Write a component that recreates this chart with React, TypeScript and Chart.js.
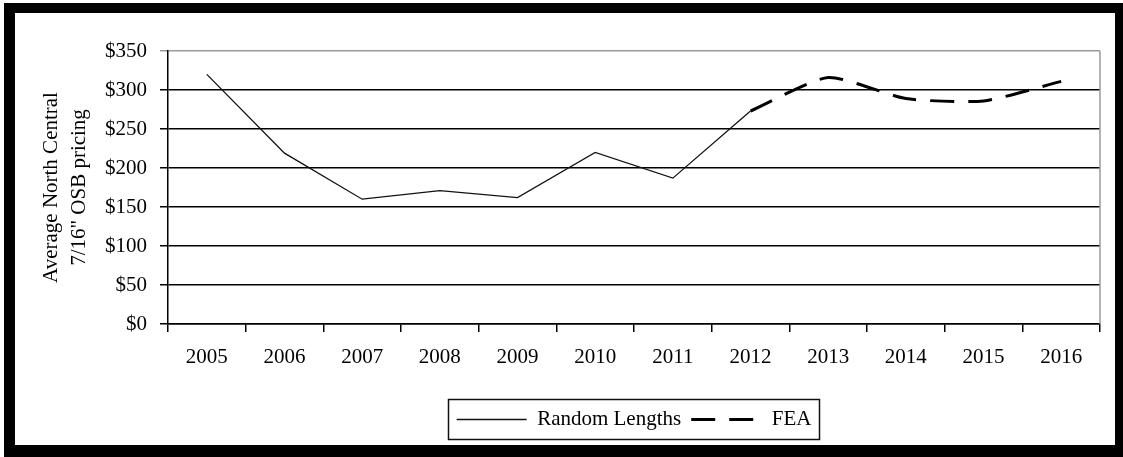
import React, { useEffect, useRef } from 'react';
import { Chart, registerables } from 'chart.js';

Chart.register(...registerables);

const years = ['2005', '2006', '2007', '2008', '2009', '2010', '2011', '2012', '2013', '2014', '2015', '2016'];
const randomLengths: (number | null)[] = [320, 219, 160, 171, 162, 220, 187, 273, null, null, null, null];
const fea: (number | null)[] = [null, null, null, null, null, null, null, 273, 316, 289, 286, 311];
const seriesNames = ['Random Lengths', 'FEA'];
const yMin = 0;
const yMax = 350;
const yStep = 50;
const yTitle = ['Average North Central', '7/16" OSB pricing'];

const FONT = "'Liberation Serif', 'Times New Roman', serif";

const decorPlugin = {
  id: 'decor',
  afterDraw(chart: any) {
    const { ctx, chartArea } = chart;
    ctx.save();
    ctx.strokeStyle = '#9a9a9a';
    ctx.lineWidth = 1.5;
    ctx.beginPath();
    ctx.moveTo(chartArea.right, chartArea.top);
    ctx.lineTo(chartArea.right, chartArea.bottom);
    ctx.stroke();
    const lg = chart.legend;
    if (lg && lg.legendHitBoxes && lg.legendHitBoxes.length) {
      const boxes = lg.legendHitBoxes;
      const l = Math.min(...boxes.map((b: any) => b.left)) - 9;
      const r = Math.max(...boxes.map((b: any) => b.left + b.width)) + 7;
      ctx.strokeStyle = '#111';
      ctx.lineWidth = 1.5;
      ctx.strokeRect(Math.round(l) + 0.5, Math.round(lg.top) + 0.5, Math.round(r - l), 40);
    }
    ctx.restore();
  },
};

export default function App() {
  const ref = useRef<HTMLCanvasElement | null>(null);

  useEffect(() => {
    document.body.style.margin = '0';
    const canvas = ref.current;
    if (!canvas) return;
    const chart = new Chart(canvas, {
      type: 'line',
      data: {
        labels: years,
        datasets: [
          {
            label: seriesNames[0],
            data: randomLengths,
            borderColor: '#111',
            backgroundColor: '#111',
            borderWidth: 1.3,
            pointRadius: 0,
            pointStyle: 'line',
            tension: 0,
            spanGaps: false,
          },
          {
            label: seriesNames[1],
            data: fea,
            borderColor: '#000',
            backgroundColor: '#000',
            borderWidth: 3,
            borderDash: [24, 14],
            pointRadius: 0,
            pointStyle: 'line',
            tension: 0.2,
            spanGaps: false,
          },
        ],
      },
      options: {
        responsive: false,
        animation: false,
        devicePixelRatio: 1,
        layout: { padding: { left: 30, right: 23, top: 51, bottom: 17 } },
        plugins: {
          tooltip: { enabled: false },
          legend: {
            display: true,
            position: 'bottom',
            fullSize: false,
            labels: {
              usePointStyle: true,
              pointStyleWidth: 70,
              padding: 10,
              color: '#000',
              font: { family: FONT, size: 21 },
              generateLabels: (ch: any) => {
                const items = Chart.defaults.plugins.legend.labels.generateLabels(ch);
                return items.map((it: any) => {
                  const ds: any = ch.data.datasets[it.datasetIndex];
                  return {
                    ...it,
                    pointStyle: 'line',
                    lineDash: ds.borderDash || [],
                    lineWidth: ds.borderWidth,
                    strokeStyle: ds.borderColor,
                    fillStyle: ds.borderColor,
                  };
                });
              },
            },
          },
        },
        scales: {
          x: {
            type: 'category',
            offset: true,
            afterFit: (scale: any) => {
              scale.height = 75;
            },
            grid: {
              offset: true,
              drawOnChartArea: false,
              drawTicks: true,
              tickLength: 8,
              color: '#000',
              lineWidth: 1.5,
            },
            border: { display: true, color: '#000', width: 1.5 },
            ticks: {
              color: '#000',
              padding: 13,
              maxRotation: 0,
              autoSkip: false,
              font: { family: FONT, size: 21 },
            },
          },
          y: {
            min: yMin,
            max: yMax,
            afterFit: (scale: any) => {
              scale.width = 138;
            },
            grid: {
              drawTicks: true,
              tickLength: 8,
              color: (c: any) => (c.tick && c.tick.value === yMax ? '#9a9a9a' : '#000'),
              lineWidth: 1.5,
            },
            border: { display: true, color: '#000', width: 1.5 },
            ticks: {
              stepSize: yStep,
              color: '#000',
              padding: 13,
              font: { family: FONT, size: 21 },
              callback: (v: any) => '$' + v,
            },
            title: {
              display: true,
              text: yTitle,
              color: '#000',
              padding: { top: 8, bottom: 0 },
              font: { family: FONT, size: 21, lineHeight: 1.33 },
            },
          },
        },
      },
      plugins: [decorPlugin],
    });
    return () => chart.destroy();
  }, []);

  return (
    <div style={{ position: 'absolute', left: 0, top: 0, width: 1123, height: 457, background: '#fff', overflow: 'hidden' }}>
      <canvas ref={ref} width={1123} height={457} style={{ position: 'absolute', left: 0, top: 0 }} />
      <div
        style={{
          position: 'absolute',
          left: 4,
          top: 3,
          width: 1119,
          height: 454,
          boxSizing: 'border-box',
          borderStyle: 'solid',
          borderColor: '#000',
          borderLeftWidth: 11,
          borderTopWidth: 10,
          borderRightWidth: 8,
          borderBottomWidth: 12,
          pointerEvents: 'none',
        }}
      />
    </div>
  );
}
